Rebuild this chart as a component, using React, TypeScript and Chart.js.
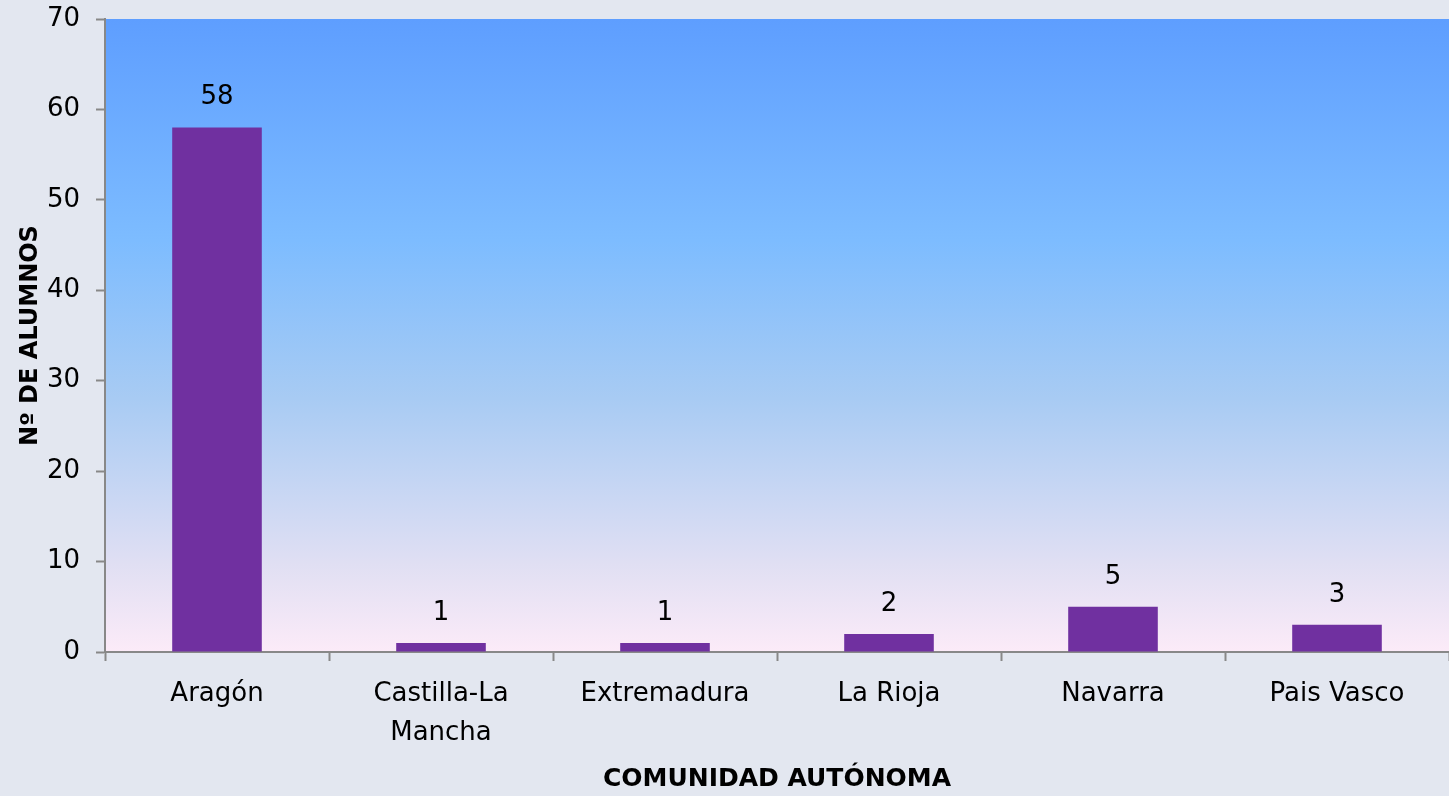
import React, { useEffect, useRef } from "react";
import { Chart, registerables } from "chart.js";

Chart.register(...registerables);

const categories: (string | string[])[] = [
  "Aragón",
  ["Castilla-La", "Mancha"],
  "Extremadura",
  "La Rioja",
  "Navarra",
  "Pais Vasco",
];
const alumnos: number[] = [58, 1, 1, 2, 5, 3];
const yTitle = "Nº DE ALUMNOS";
const xTitle = "COMUNIDAD AUTÓNOMA";

const FONT = "'DejaVu Sans', sans-serif";
const PAGE_BG = "#E3E7F0";
const AXIS = "#888888";

const bgPlugin = {
  id: "bgPlugin",
  beforeDraw(chart: any) {
    const { ctx, chartArea, width, height } = chart;
    ctx.save();
    ctx.fillStyle = PAGE_BG;
    ctx.fillRect(0, 0, width, height);
    const g = ctx.createLinearGradient(0, chartArea.top, 0, chartArea.bottom);
    g.addColorStop(0, "#5E9EFF");
    g.addColorStop(0.35, "#7DBCFF");
    g.addColorStop(0.6, "#A8CBF3");
    g.addColorStop(0.86, "#E0DFF3");
    g.addColorStop(1, "#FCEBF8");
    ctx.fillStyle = g;
    ctx.fillRect(chartArea.left, chartArea.top, chartArea.right - chartArea.left, chartArea.bottom - chartArea.top);
    ctx.restore();
  },
};

const labelPlugin = {
  id: "labelPlugin",
  afterDatasetsDraw(chart: any) {
    const { ctx } = chart;
    const meta = chart.getDatasetMeta(0);
    ctx.save();
    ctx.font = `26px ${FONT}`;
    ctx.fillStyle = "#000000";
    ctx.textAlign = "center";
    ctx.textBaseline = "middle";
    meta.data.forEach((bar: any, i: number) => {
      ctx.fillText(String(alumnos[i]), bar.x, bar.y - 30);
    });
    ctx.restore();
  },
};

export default function App() {
  const ref = useRef<HTMLCanvasElement | null>(null);
  useEffect(() => {
    document.body.style.margin = "0";
    document.body.style.background = PAGE_BG;
    const canvas = ref.current!;
    const chart = new Chart(canvas, {
      type: "bar",
      data: {
        labels: categories,
        datasets: [
          {
            data: alumnos,
            backgroundColor: "#7030A0",
            borderWidth: 0,
            barPercentage: 1,
            categoryPercentage: 0.4,
          },
        ],
      },
      plugins: [bgPlugin, labelPlugin],
      options: {
        responsive: false,
        animation: false,
        devicePixelRatio: 1,
        layout: { padding: { top: 19, right: 0, left: 0, bottom: 0 } },
        plugins: { legend: { display: false }, tooltip: { enabled: false } },
        scales: {
          x: {
            afterFit: (s: any) => {
              s.height = 144;
              s.paddingLeft = 0;
              s.paddingRight = 0;
            },
            grid: {
              drawOnChartArea: false,
              drawTicks: true,
              tickLength: 9,
              tickWidth: 2,
              tickColor: AXIS,
              offset: true,
            },
            border: { color: AXIS, width: 2 },
            ticks: {
              color: "#000000",
              font: { family: FONT, size: 26, lineHeight: 1.5 },
              padding: 14,
              maxRotation: 0,
              autoSkip: false,
            },
            title: {
              display: true,
              text: xTitle,
              color: "#000000",
              font: { family: FONT, size: 25, weight: "bold" },
              padding: { top: 0, bottom: 2 },
            },
          },
          y: {
            min: 0,
            max: 70,
            afterFit: (s: any) => {
              s.width = 105;
              s.paddingTop = 0;
              s.paddingBottom = 0;
            },
            grid: {
              drawOnChartArea: false,
              drawTicks: true,
              tickLength: 9,
              tickWidth: 2,
              tickColor: AXIS,
            },
            border: { color: AXIS, width: 2 },
            ticks: {
              stepSize: 10,
              color: "#000000",
              font: { family: FONT, size: 26 },
              padding: 16,
            },
            title: {
              display: true,
              text: yTitle,
              color: "#000000",
              font: { family: FONT, size: 24, weight: "bold" },
              padding: { top: 16, bottom: 0 },
            },
          },
        },
      },
    } as any);
    return () => chart.destroy();
  }, []);
  return (
    <canvas
      ref={ref}
      width={1449}
      height={796}
      style={{ display: "block", width: 1449, height: 796 }}
    />
  );
}
